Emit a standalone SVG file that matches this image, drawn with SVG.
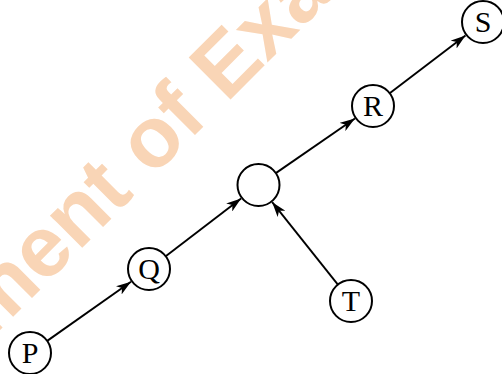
<svg xmlns="http://www.w3.org/2000/svg" width="502" height="374" viewBox="0 0 502 374">
<style>
.node circle{fill:#fff;stroke:#000;stroke-width:2}
.node text{font-family:"Liberation Serif","Times New Roman",serif;font-size:30px;fill:#000;text-anchor:middle}
.edge{stroke:#000;stroke-width:1.9;fill:none;marker-end:url(#ah)}
.wm{font-family:"Liberation Sans",Arial,sans-serif;font-weight:bold;font-size:86px;fill:#F9D5B6}
</style>
<defs>
<marker id="ah" markerUnits="userSpaceOnUse" markerWidth="15" markerHeight="10" refX="15" refY="5" orient="auto" viewBox="0 0 15 10">
<path d="M0,0 L15,5 L0,10 L4,5 z" fill="#000"/>
</marker>
</defs>
<rect width="502" height="374" fill="#fff"/>
<text class="wm" transform="translate(-10,340) rotate(-45)">ment of Exa</text>
<g id="connectors">
<line class="edge" x1="47.2" y1="340.9" x2="131" y2="281.7"/>
<line class="edge" x1="165.7" y1="256.2" x2="241.1" y2="198.4"/>
<line class="edge" x1="275.8" y1="173.1" x2="354.9" y2="118.5"/>
<line class="edge" x1="389.7" y1="93.3" x2="465.5" y2="35.4"/>
<line class="edge" x1="337.9" y1="284.6" x2="272.2" y2="202.2"/>
</g>
<g id="P" class="node"><circle cx="30" cy="353" r="21"/><text x="30" y="363">P</text></g>
<g id="Q" class="node"><circle cx="149" cy="269" r="21"/><text x="149" y="279">Q</text></g>
<g id="M" class="node"><circle cx="258.5" cy="185" r="21"/></g>
<g id="R" class="node"><circle cx="373" cy="106" r="21"/><text x="373" y="116">R</text></g>
<g id="S" class="node"><circle cx="483" cy="22" r="21"/><text x="483" y="32">S</text></g>
<g id="T" class="node"><circle cx="351" cy="301" r="21"/><text x="351" y="311">T</text></g>
</svg>
